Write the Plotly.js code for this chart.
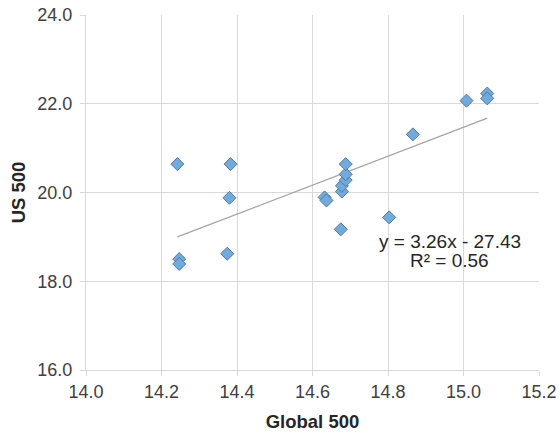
<!DOCTYPE html>
<html>
<head>
<meta charset="utf-8">
<script src="https://cdn.plot.ly/plotly-3.0.1.min.js"></script>
<style>html,body{margin:0;padding:0;background:#fff;}#chart{width:559px;height:432px;}</style>
</head>
<body>
<div id="chart"></div>
<script>
const global500 = [14.242, 14.383, 14.380, 14.247, 14.247, 14.374, 14.632, 14.637, 14.678, 14.678, 14.688, 14.688, 14.688, 14.675, 14.866, 14.803, 15.008, 15.063, 15.063];
const us500     = [20.64, 20.64, 19.88, 18.50, 18.39, 18.62, 19.89, 19.82, 20.02, 20.15, 20.28, 20.41, 20.64, 19.17, 21.31, 19.44, 22.07, 22.23, 22.12];
const slope = 3.26;
const intercept = -27.43;
const rSquared = 0.56;
const xTicks = [14.0, 14.2, 14.4, 14.6, 14.8, 15.0, 15.2];
const yTicks = [16.0, 18.0, 20.0, 22.0, 24.0];

const xMin = Math.min(...global500), xMax = Math.max(...global500);
const trendX = [xMin, xMax];
const trendY = trendX.map(x => slope * x + intercept);

const font = "'Liberation Sans', Arial, sans-serif";
const traces = [
  {x: trendX, y: trendY, mode: 'lines', type: 'scatter',
   line: {color: '#a3a3a3', width: 1.2}, hoverinfo: 'skip'},
  {x: global500, y: us500, mode: 'markers', type: 'scatter',
   marker: {symbol: 'diamond', size: 10, color: '#70abde', line: {color: '#55799c', width: 1}}}
];
const eq = 'y = ' + slope.toFixed(2) + 'x - ' + Math.abs(intercept).toFixed(2);
const layout = {
  width: 559, height: 432,
  margin: {l: 86, r: 19.5, t: 15, b: 62},
  paper_bgcolor: '#fff', plot_bgcolor: '#fff',
  showlegend: false,
  font: {family: font, size: 18, color: '#404040'},
  xaxis: {range: [14.0, 15.2], tickvals: xTicks, ticktext: xTicks.map(v => v.toFixed(1)),
    showgrid: true, gridcolor: '#d9d9d9', gridwidth: 1, zeroline: false,
    showline: true, linecolor: '#d9d9d9', linewidth: 1,
    ticks: 'outside', ticklen: 5, tickcolor: '#d9d9d9',
    tickfont: {family: font, size: 18, color: '#404040'},
    title: {text: '<b>Global 500</b>', font: {family: font, size: 18.5, color: '#262626'}, standoff: 14}},
  yaxis: {range: [16.0, 24.0], tickvals: yTicks, ticktext: yTicks.map(v => v.toFixed(1)),
    showgrid: true, gridcolor: '#d9d9d9', gridwidth: 1, zeroline: false,
    showline: true, linecolor: '#d9d9d9', linewidth: 1,
    ticks: 'outside', ticklen: 5, tickcolor: '#d9d9d9', ticklabelstandoff: 4,
    tickfont: {family: font, size: 18, color: '#404040'},
    title: {text: '<b>US 500</b>', font: {family: font, size: 18.5, color: '#262626'}, standoff: 6}},
  annotations: [
    {x: 14.963, y: 18.89, xref: 'x', yref: 'y', text: eq, showarrow: false,
     font: {family: font, size: 19, color: '#262626'}},
    {x: 14.963, y: 18.46, xref: 'x', yref: 'y', text: 'R² = ' + rSquared.toFixed(2), showarrow: false,
     font: {family: font, size: 19, color: '#262626'}}
  ]
};
Plotly.newPlot('chart', traces, layout, {displayModeBar: false, staticPlot: true});
</script>
</body>
</html>
